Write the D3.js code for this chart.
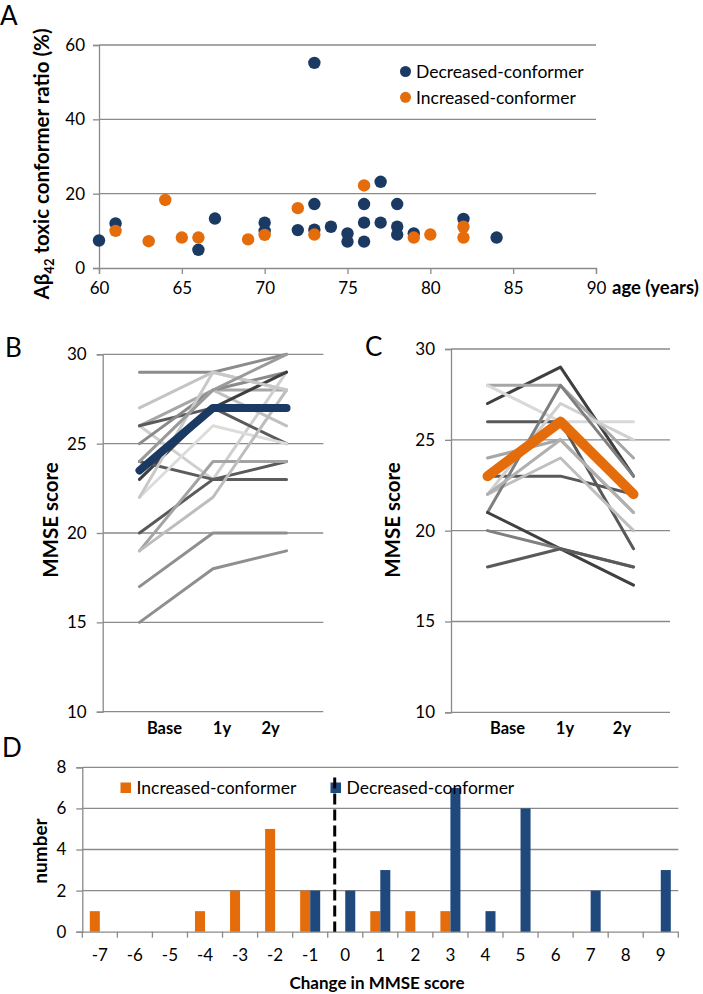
<!DOCTYPE html>
<html><head><meta charset="utf-8">
<script src="https://cdn.jsdelivr.net/npm/d3@7"></script>
<style>
html,body{margin:0;padding:0;background:#fff;}
svg{display:block;font-family:Lato,"Open Sans",sans-serif;}
</style></head>
<body>
<svg id="chart" width="703" height="994"></svg>
<script>
// ---------------- DATA ----------------
// Panel A: age (years) vs Aβ42 toxic conformer ratio (%)
const decreasedAge   = [60,61,66,67,70,70,72,73,73,73,74,75,75,76,76,76,77,77,78,78,78,79,82,84];
const decreasedRatio = [7.4,12,4.9,13.3,12.2,10,10.2,55.2,17.2,10.3,11.1,9.3,7.1,17.2,12.2,7.1,23.2,12.2,17.2,11.1,9,9.3,13.2,8.2];
const increasedAge   = [61,63,64,65,66,69,70,72,73,76,79,80,82,82];
const increasedRatio = [10,7.2,18.3,8.2,8.2,7.7,8.9,16.1,9,22.2,8.2,9,11.1,8.2];
const ageTicks   = [60,65,70,75,80,85,90];
const ratioTicks = [0,20,40,60];

// Panels B & C: MMSE score over time
const timepoints = ["Base","1y","2y"];
const mmseTicks = [10,15,20,25,30];
const decreasedSubjects = [
  [29,29,30],[27,29,28],[26,28,28],[26,23,29],[26,27,25],[25,28,29],
  [24,28,26],[23,27,29],[24,23,23],[22,26,25],[20,23,24],[19,24,24],
  [19,22,28],[17,20,20],[15,18,19],[22,29,28],[24,28,30]
];
const decreasedShades = ["#8c8c8c","#c4c4c4","#a6a6a6","#cfcfcf","#5a5a5a","#8a8a8a",
  "#c0c0c0","#3f3f3f","#5c5c5c","#dcdcdc","#5a5a5a","#a3a3a3",
  "#bdbdbd","#8f8f8f","#8f8f8f","#c8c8c8","#9a9a9a"];
const decreasedMean = [23.5,27,27];
const increasedSubjects = [
  [27,29,23],[28,28,24],[28,26,26],[26,26,19],[24,25,21],[23,23,22],
  [22,24,20],[22,27,25],[21,28,23],[21,19,17],[20,19,18],[18,19,18],[22,25,21]
];
const increasedShades = ["#3f3f3f","#a6a6a6","#d9d9d9","#595959","#a6a6a6","#595959",
  "#bfbfbf","#d0d0d0","#7f7f7f","#404040","#7f7f7f","#5a5a5a","#b0b0b0"];
const increasedMean = [23,26,22];

// Panel D: histogram of change in MMSE score
const changeCats = [-7,-6,-5,-4,-3,-2,-1,0,1,2,3,4,5,6,7,8,9];
const increasedCounts = [1,0,0,1,2,5,2,0,1,1,1,0,0,0,0,0,0];
const decreasedCounts = [0,0,0,0,0,0,2,2,3,0,7,1,6,0,2,0,3];
const countTicks = [0,2,4,6,8];
const dividerChange = -0.3;   // dashed separator position (in change units)
const dividerTop = 7.5;

// ---------------- STYLE ----------------
const NAVY = "#1b3a63", ORANGE = "#e46c0a", BARBLUE = "#1f497d", BARORANGE = "#e46c0a";
const GRID = "#8a8a8a";
const TICKFONT = 17;

const svg = d3.select("#chart");

function panelLetter(t, x, y){
  svg.append("text").attr("x",x).attr("y",y).attr("font-size",26).attr("fill","#000").text(t);
}

// ================= PANEL A =================
{
  const x = d3.scaleLinear().domain([60,90]).range([99,596]);
  const y = d3.scaleLinear().domain([0,60]).range([268,45]);
  const g = svg.append("g");
  g.selectAll(".ga").data(ratioTicks.filter(d=>d>0)).join("line")
    .attr("x1",x(60)).attr("x2",x(90)).attr("y1",d=>y(d)).attr("y2",d=>y(d))
    .attr("stroke",GRID).attr("stroke-width",1.3);
  const yAx = d3.axisLeft(y).tickValues(ratioTicks).tickSize(6).tickPadding(6);
  const ya = g.append("g").attr("transform",`translate(${x(60)},0)`).call(yAx);
  const xAx = d3.axisBottom(x).tickValues(ageTicks).tickSize(6).tickPadding(8);
  const xa = g.append("g").attr("transform",`translate(0,${y(0)})`).call(xAx);
  [ya,xa].forEach(a=>{
    a.select(".domain").attr("stroke",GRID).attr("stroke-width",1.3);
    a.selectAll(".tick line").attr("stroke",GRID).attr("stroke-width",1.3);
    a.selectAll("text").attr("font-size",TICKFONT).attr("fill","#000").attr("font-family","Lato");
  });
  ya.selectAll("text").attr("dx",-2);
  g.selectAll(".pd").data(decreasedAge.map((a,i)=>[a,decreasedRatio[i]])).join("circle")
    .attr("cx",d=>x(d[0])).attr("cy",d=>y(d[1])).attr("r",6.2).attr("fill",NAVY);
  g.selectAll(".pi").data(increasedAge.map((a,i)=>[a,increasedRatio[i]])).join("circle")
    .attr("cx",d=>x(d[0])).attr("cy",d=>y(d[1])).attr("r",6.2).attr("fill",ORANGE);
  const leg = [["Decreased-conformer",NAVY],["Increased-conformer",ORANGE]];
  leg.forEach((l,i)=>{
    g.append("circle").attr("cx",405.5).attr("cy",71.5+i*25.8).attr("r",5.5).attr("fill",l[1]);
    g.append("text").attr("x",416).attr("y",71.5+i*25.8).attr("dy","0.36em")
      .attr("font-size",17.5).attr("fill","#000").text(l[0]);
  });
  g.append("text").attr("x",612).attr("y",294).attr("font-size",18.5).attr("font-weight","bold")
    .attr("fill","#000").text("age (years)");
  const yt = g.append("text").attr("transform","translate(49,164) rotate(-90)")
    .attr("text-anchor","middle").attr("font-size",20.5).attr("font-weight","bold").attr("fill","#000");
  yt.append("tspan").text("Aβ");
  yt.append("tspan").attr("font-size",13).attr("dy",5).text("42");
  yt.append("tspan").attr("dy",-5).text(" toxic conformer ratio (%)");
  panelLetter("A",0,25);
}

// ================= PANELS B & C =================
function mmsePanel(opts){
  const {x0,x1,yTop,yBot,subjects,shades,mean,meanColor,meanWidth,labelShift,titleX,titleY,letter,letterX,letterY} = opts;
  const x = d3.scaleBand().domain(timepoints).range([x0,x1]);
  const cx = d => x(d)+x.bandwidth()/2;
  const y = d3.scaleLinear().domain([10,30]).range([yBot,yTop]);
  const g = svg.append("g");
  g.selectAll(".gr").data(mmseTicks).join("line")
    .attr("x1",x0).attr("x2",x1).attr("y1",d=>y(d)).attr("y2",d=>y(d))
    .attr("stroke",GRID).attr("stroke-width",1.3);
  const ya = g.append("g").attr("transform",`translate(${x0},0)`)
    .call(d3.axisLeft(y).tickValues(mmseTicks).tickSize(6).tickPadding(6));
  ya.select(".domain").attr("stroke",GRID).attr("stroke-width",1.3);
  ya.selectAll(".tick line").attr("stroke",GRID).attr("stroke-width",1.3);
  ya.selectAll("text").attr("font-size",TICKFONT).attr("fill","#000").attr("font-family","Lato").attr("dx",-4);
  g.selectAll(".cl").data(timepoints).join("text")
    .attr("x",(d,i)=>cx(d)+labelShift[i]).attr("y",yBot+22)
    .attr("text-anchor","middle").attr("font-size",16.5).attr("font-weight","bold").attr("fill","#000")
    .text(d=>d);
  const line = d3.line().x((d,i)=>cx(timepoints[i])).y(d=>y(d));
  g.selectAll(".sl").data(subjects).join("path")
    .attr("d",line).attr("fill","none").attr("stroke",(d,i)=>shades[i])
    .attr("stroke-width",3).attr("stroke-linejoin","round").attr("stroke-linecap","round");
  g.append("path").datum(mean).attr("d",line).attr("fill","none").attr("stroke",meanColor)
    .attr("stroke-width",meanWidth).attr("stroke-linejoin","round").attr("stroke-linecap","round");
  g.append("text").attr("transform",`translate(${titleX},${titleY}) rotate(-90)`)
    .attr("text-anchor","middle").attr("font-size",20.5).attr("font-weight","bold").attr("fill","#000")
    .text("MMSE score");
  panelLetter(letter,letterX,letterY);
}
mmsePanel({x0:102.7,x1:323.3,yTop:354.3,yBot:711.7,subjects:decreasedSubjects,shades:decreasedShades,
  mean:decreasedMean,meanColor:NAVY,meanWidth:8,labelShift:[25,9,-16],titleX:58,titleY:520,letter:"B",letterX:5,letterY:357});
mmsePanel({x0:451,x1:670,yTop:349,yBot:712.3,subjects:increasedSubjects,shades:increasedShades,
  mean:increasedMean,meanColor:ORANGE,meanWidth:10,labelShift:[20,4.5,-11.5],titleX:400,titleY:520,letter:"C",letterX:365,letterY:356});

// ================= PANEL D =================
{
  const x = d3.scaleBand().domain(changeCats).range([82.3,678.3]);
  const xs = d3.scaleBand().domain(["inc","dec"]).range([0,x.bandwidth()]).paddingOuter(0.75);
  const y = d3.scaleLinear().domain([0,8]).range([931.7,767.3]);
  const g = svg.append("g");
  g.selectAll(".gr").data(countTicks.filter(d=>d>0)).join("line")
    .attr("x1",82.3).attr("x2",678.3).attr("y1",d=>y(d)).attr("y2",d=>y(d))
    .attr("stroke",GRID).attr("stroke-width",1.3);
  const ya = g.append("g").attr("transform",`translate(82.3,0)`)
    .call(d3.axisLeft(y).tickValues(countTicks).tickSize(6).tickPadding(6));
  ya.select(".domain").attr("stroke",GRID).attr("stroke-width",1.3);
  ya.selectAll(".tick line").attr("stroke",GRID).attr("stroke-width",1.3);
  ya.selectAll("text").attr("font-size",TICKFONT).attr("fill","#000").attr("font-family","Lato").attr("dx",-4);
  const xa = g.append("g").attr("transform",`translate(0,${y(0)})`)
    .call(d3.axisBottom(x).tickSize(0).tickPadding(17));
  xa.select(".domain").attr("stroke",GRID).attr("stroke-width",1.3);
  xa.selectAll("text").attr("font-size",TICKFONT).attr("fill","#000").attr("font-family","Lato");
  const bounds = changeCats.map(c=>x(c)).concat([x(changeCats[changeCats.length-1])+x.bandwidth()]);
  g.selectAll(".bt").data(bounds).join("line")
    .attr("x1",d=>d).attr("x2",d=>d).attr("y1",y(0)).attr("y2",y(0)+6)
    .attr("stroke",GRID).attr("stroke-width",1.3);
  g.selectAll(".bi").data(changeCats.map((c,i)=>[c,increasedCounts[i]]).filter(d=>d[1]>0)).join("rect")
    .attr("x",d=>x(d[0])+xs("inc")).attr("width",xs.bandwidth())
    .attr("y",d=>y(d[1])).attr("height",d=>y(0)-y(d[1])).attr("fill",BARORANGE);
  g.selectAll(".bd").data(changeCats.map((c,i)=>[c,decreasedCounts[i]]).filter(d=>d[1]>0)).join("rect")
    .attr("x",d=>x(d[0])+xs("dec")).attr("width",xs.bandwidth())
    .attr("y",d=>y(d[1])).attr("height",d=>y(0)-y(d[1])).attr("fill",BARBLUE);
  const leg = [["Increased-conformer",BARORANGE,120.5],["Decreased-conformer",BARBLUE,330.5]];
  leg.forEach(l=>{
    g.append("rect").attr("x",l[2]).attr("y",782.5).attr("width",10.5).attr("height",10.5).attr("fill",l[1]);
    g.append("text").attr("x",l[2]+16).attr("y",788).attr("dy","0.36em")
      .attr("font-size",17.5).attr("fill","#000").text(l[0]);
  });
  const xl = d3.scaleLinear().domain([changeCats[0]-0.5, changeCats[changeCats.length-1]+0.5]).range([82.3,678.3]);
  g.append("line").attr("x1",xl(dividerChange)).attr("x2",xl(dividerChange))
    .attr("y1",y(dividerTop)).attr("y2",y(0)).attr("stroke","#000").attr("stroke-width",3)
    .attr("stroke-dasharray","11,5");
  g.append("text").attr("x",377).attr("y",989).attr("text-anchor","middle").attr("font-size",17)
    .attr("font-weight","bold").attr("fill","#000").text("Change in MMSE score");
  g.append("text").attr("transform",`translate(47,851) rotate(-90)`).attr("text-anchor","middle")
    .attr("font-size",19).attr("font-weight","bold").attr("fill","#000").text("number");
  panelLetter("D",2,757);
}
</script>
</body></html>
